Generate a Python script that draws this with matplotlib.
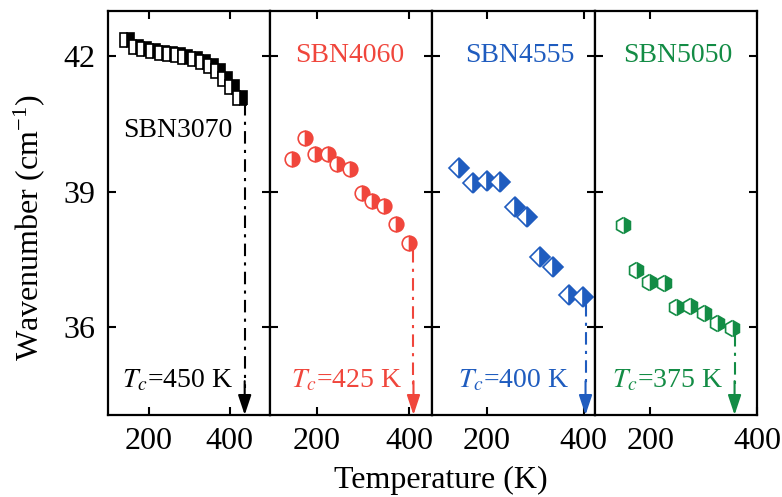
import numpy as np
import matplotlib
matplotlib.use("Agg")
import matplotlib.pyplot as plt

plt.rcParams['font.family'] = ['Liberation Serif', 'DejaVu Serif']
plt.rcParams['mathtext.fontset'] = 'stix'

# datos
names = ["SBN3070", "SBN4060", "SBN4555", "SBN5050"]
tc_labels = ["450", "425", "400", "375"]
colors = ["black", "#f0463c", "#1f5cbf", "#138c45"]
markers = ["s", "o", "D", "h"]

t1 = [146, 170, 190, 210, 232, 252, 272, 291, 314, 333, 353, 370, 388, 405, 425]
w1 = [42.35, 42.20, 42.15, 42.11, 42.07, 42.04, 42.02, 41.98, 41.93, 41.87, 41.78, 41.67, 41.49, 41.32, 41.07]

t2 = [148, 174, 196, 224, 245, 271, 297, 320, 346, 372, 400]
w2 = [39.73, 40.19, 39.82, 39.84, 39.62, 39.49, 38.96, 38.78, 38.69, 38.29, 37.85]

t3 = [142, 171, 200, 227, 258, 283, 310, 337, 369, 398]
w3 = [39.53, 39.18, 39.24, 39.20, 38.65, 38.43, 37.54, 37.32, 36.71, 36.66]

t4 = [149, 174, 198, 225, 249, 274, 300, 326, 353]
w4 = [38.25, 37.26, 37.00, 36.97, 36.44, 36.46, 36.31, 36.09, 35.98]

temps = [t1, t2, t3, t4]
waves = [w1, w2, w3, w4]

# flechas de Tc
arrow_x = [437, 409, 404, 358]
arrow_top = [40.95, 37.7, 36.5, 35.85]

xlims = [(100, 500), (100, 450), (88, 423), (96, 400)]
ylim = (34.05, 43.0)

fig = plt.figure(figsize=(7.82, 4.97), dpi=100)
gs = fig.add_gridspec(1, 4, left=0.1381, right=0.968, bottom=0.165, top=0.978, wspace=0)

name_pos = [(0.43, 0.705), (0.49, 0.89), (0.54, 0.89), (0.51, 0.89)]
tc_pos = [0.086, 0.13, 0.16, 0.107]
msizes = [10, 10.5, 10, 11.5]

for i in range(4):
    ax = fig.add_subplot(gs[0, i])
    c = colors[i]
    ax.plot(temps[i], waves[i], linestyle='none', marker=markers[i], ms=msizes[i],
            fillstyle='right', markerfacecolor=c, markerfacecoloralt='white',
            markeredgecolor=c, markeredgewidth=1.2)
    # linea punto-raya y punta de flecha
    ax.plot([arrow_x[i], arrow_x[i]], [arrow_top[i], ylim[0] + 0.6], linestyle=(0, (6, 3, 1.5, 3)),
            color=c, lw=1.5)
    ax.annotate('', xy=(arrow_x[i], ylim[0]), xytext=(arrow_x[i], ylim[0] + 0.75),
                arrowprops=dict(arrowstyle='-|>,head_length=0.6,head_width=0.2', color=c,
                                lw=1.5, mutation_scale=20, shrinkA=0, shrinkB=0))
    ax.text(name_pos[i][0], name_pos[i][1], names[i], color=c, fontsize=20,
            transform=ax.transAxes, ha='center', va='center')
    ax.text(tc_pos[i], 0.085, r"$T_c$=" + tc_labels[i] + " K", color=c, fontsize=20,
            transform=ax.transAxes, ha='left', va='center')

    ax.set_xlim(xlims[i])
    ax.set_ylim(ylim)
    ax.set_xticks([200, 400])
    ax.set_yticks([36, 39, 42])
    ax.tick_params(direction='in', length=6, width=1.5, top=True, right=True,
                   labelsize=23, pad=9)
    if i > 0:
        ax.tick_params(labelleft=False)
    for s in ax.spines.values():
        s.set_linewidth(1.6)

fig.text(0.564, 0.034, "Temperature (K)", fontsize=23, ha='center', va='center')
fig.text(0.038, 0.543, r"Wavenumber (cm$^{\mathregular{-1}}$)", fontsize=23,
         ha='center', va='center', rotation=90)

fig.savefig("out.png", dpi=100)
